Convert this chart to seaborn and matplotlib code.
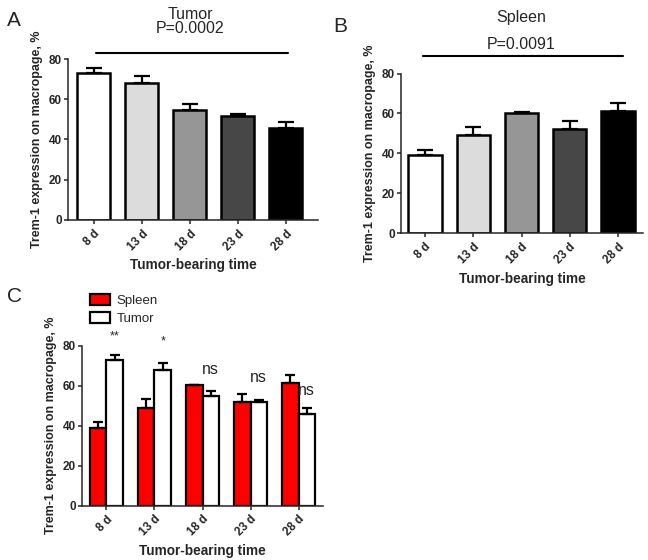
import numpy as np
import pandas as pd
import matplotlib
matplotlib.use("Agg")
import matplotlib.pyplot as plt
import seaborn as sns

# ---- data ----
days = ["8 d", "13 d", "18 d", "23 d", "28 d"]
tumor_mean = [73.0, 68.0, 54.7, 51.7, 45.7]
tumor_sem = [2.3, 3.5, 2.8, 1.0, 3.2]
spleen_mean = [39.0, 49.0, 60.3, 52.0, 61.2]
spleen_sem = [2.7, 4.4, 0.3, 4.0, 4.2]
gray_colors = ["#ffffff", "#dcdcdc", "#969696", "#474747", "#000000"]
tissues = ["Spleen", "Tumor"]
tissue_colors = {"Spleen": "#ff0000", "Tumor": "#ffffff"}
sig_labels = ["**", "*", "ns", "ns", "ns"]
sig_y = [84.5, 82.0, 68.0, 64.0, 57.5]

sns.set_style("ticks")
plt.rcParams["font.family"] = ["Liberation Sans", "DejaVu Sans"]
plt.rcParams["axes.linewidth"] = 1.1
plt.rcParams["xtick.major.width"] = 1.1
plt.rcParams["ytick.major.width"] = 1.1
plt.rcParams["xtick.major.size"] = 3
plt.rcParams["ytick.major.size"] = 3
plt.rcParams["ytick.major.pad"] = 1.5
plt.rcParams["xtick.major.pad"] = 2.5

fig = plt.figure(figsize=(6.48, 5.6), dpi=100)
W, H = 648, 560


def add_ax(l, r, t, b):
    return fig.add_axes([l / W, 1 - b / H, (r - l) / W, (b - t) / H])


ylab = "Trem-1 expression on macropage, %"
xlab = "Tumor-bearing time"


def style(ax, xlim):
    ax.set_ylim(0, 80)
    ax.set_yticks([0, 20, 40, 60, 80])
    ax.set_xlim(*xlim)
    sns.despine(ax=ax)
    ax.set_ylabel(ylab, fontsize=9, fontweight="bold", labelpad=4)
    ax.set_xlabel(xlab, fontsize=9.8, fontweight="bold", labelpad=4)
    for lab in ax.get_yticklabels():
        lab.set_fontweight("bold")
        lab.set_fontsize(8.5)
    ax.set_xticks(range(len(days)))
    ax.set_xticklabels(days, rotation=45, ha="right", rotation_mode="anchor",
                       fontsize=8.5, fontweight="bold")


def single_panel(ax, means, sems, title, ptxt, ty, py, ly, lx):
    df = pd.DataFrame({"day": days, "value": means})
    sns.barplot(data=df, x="day", y="value", hue="day", palette=gray_colors,
                legend=False, width=0.69, edgecolor="black", linewidth=1.8,
                saturation=1, errorbar=None, ax=ax)
    xs = [p.get_x() + p.get_width() / 2 for p in ax.patches]
    ax.errorbar(xs, means, yerr=[np.zeros(len(sems)), sems], fmt="none",
                ecolor="black", elinewidth=1.6, capsize=6, capthick=1.6, zorder=1)
    ax.text(2, ty, title, ha="center", va="center", fontsize=11.5, clip_on=False)
    ax.text(2, py, ptxt, ha="center", va="center", fontsize=11.5, clip_on=False)
    ax.plot(lx, [ly, ly], color="black", lw=1.5, clip_on=False)


# Panel A
axA = add_ax(68, 318, 59, 220)
single_panel(axA, tumor_mean, tumor_sem, "Tumor", "P=0.0002", 102.2, 95.2, 83, [0.05, 4.05])
style(axA, (-0.54, 4.67))

# Panel B
axB = add_ax(401, 643, 73.5, 233.3)
single_panel(axB, spleen_mean, spleen_sem, "Spleen", "P=0.0091", 108, 94.5, 89, [-0.04, 4.1])
style(axB, (-0.5, 4.52))

# Panel C
axC = add_ax(82, 323, 345.7, 505.7)
dfc = pd.DataFrame({
    "day": days * 2,
    "tissue": ["Spleen"] * 5 + ["Tumor"] * 5,
    "value": spleen_mean + tumor_mean,
})
sns.barplot(data=dfc, x="day", y="value", hue="tissue", hue_order=tissues,
            palette=tissue_colors, width=0.69, edgecolor="black", linewidth=1.6,
            saturation=1, errorbar=None, ax=axC)
all_means = [spleen_mean, tumor_mean]
all_sems = [spleen_sem, tumor_sem]
for cont, m, s in zip(axC.containers, all_means, all_sems):
    xs = [p.get_x() + p.get_width() / 2 for p in cont.patches]
    axC.errorbar(xs, m, yerr=[np.zeros(len(s)), s], fmt="none", ecolor="black",
                 elinewidth=1.6, capsize=3.5, capthick=1.6, zorder=1)
tumor_x = [p.get_x() + p.get_width() / 2 for p in axC.containers[1].patches]
for x, lab, y in zip(tumor_x, sig_labels, sig_y):
    fs = 11.5 if lab == "ns" else 9
    axC.text(x, y, lab, ha="center", va="center", fontsize=fs, clip_on=False)
style(axC, (-0.51, 4.51))
handles, labels = axC.get_legend_handles_labels()
axC.legend(handles, labels, loc="upper left", bbox_to_anchor=(90 / W, 1 - 294 / H),
           bbox_transform=fig.transFigure, frameon=False, fontsize=9.5,
           handlelength=1.5, handleheight=0.9, labelspacing=0.35, handletextpad=0.5,
           borderaxespad=0, borderpad=0)

# panel letters
fig.text(7 / W, 1 - 21 / H, "A", fontsize=15, va="center", ha="left")
fig.text(333 / W, 1 - 27 / H, "B", fontsize=15, va="center", ha="left")
fig.text(7 / W, 1 - 296 / H, "C", fontsize=15, va="center", ha="left")

fig.savefig("out.png", dpi=100)
